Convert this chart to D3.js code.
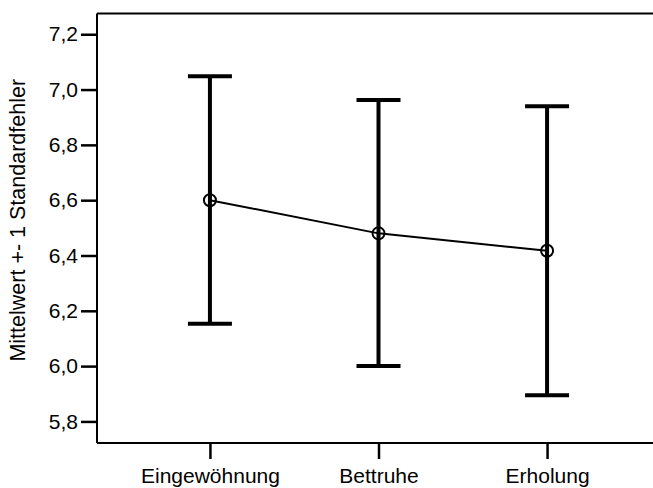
<!DOCTYPE html>
<html>
<head>
<meta charset="utf-8">
<script src="https://cdn.jsdelivr.net/npm/d3@7"></script>
<style>
  body { margin: 0; background: #fff; }
  svg { display: block; font-family: "Liberation Sans", Arial, sans-serif; }
</style>
</head>
<body>
<div id="chart"></div>
<script>
// data
var categories = ["Eingewöhnung", "Bettruhe", "Erholung"];
var means = [6.60, 6.48, 6.417];
var upper = [7.048, 6.962, 6.94];
var lower = [6.153, 6.0, 5.895];
var yTicks = [5.8, 6.0, 6.2, 6.4, 6.6, 6.8, 7.0, 7.2];

var width = 653, height = 488;
var margin = {top: 13.5, right: -7, bottom: 45, left: 97};
var w = width - margin.left - margin.right;
var h = height - margin.top - margin.bottom;
var fontSize = 21;

var svg = d3.select("#chart").append("svg")
    .attr("width", width)
    .attr("height", height);

var g = svg.append("g")
    .attr("transform", "translate(" + margin.left + "," + margin.top + ")");

var x = d3.scalePoint()
    .domain(categories)
    .range([0, w])
    .padding(0.67);

var y = d3.scaleLinear()
    .domain([5.722, 7.275])
    .range([h, 0]);

var fmt = function(d) { return d3.format(".1f")(d).replace(".", ","); };

// frame (top + bottom run off the right edge)
g.append("line")
    .attr("x1", 0).attr("x2", w)
    .attr("y1", 0).attr("y2", 0)
    .attr("stroke", "#000").attr("stroke-width", 2);

// y axis
var yAxis = g.append("g")
    .call(d3.axisLeft(y).tickValues(yTicks).tickFormat(fmt).tickSize(16).tickPadding(3));
yAxis.select(".domain").attr("stroke-width", 2).attr("d", "M0," + h + "V0");
yAxis.selectAll(".tick line").attr("stroke-width", 2.5);
yAxis.selectAll(".tick text").attr("font-size", fontSize).attr("fill", "#000").attr("font-family", "Liberation Sans, Arial, sans-serif");

// x axis
var xAxis = g.append("g")
    .attr("transform", "translate(0," + h + ")")
    .call(d3.axisBottom(x).tickSize(16).tickPadding(9));
xAxis.select(".domain").attr("stroke-width", 2).attr("d", "M0,0H" + w);
xAxis.selectAll(".tick line").attr("stroke-width", 2.5);
xAxis.selectAll(".tick text").attr("font-size", fontSize).attr("fill", "#000").attr("font-family", "Liberation Sans, Arial, sans-serif");

// axis title
svg.append("text")
    .attr("transform", "translate(25," + (margin.top + h / 2 - 8) + ") rotate(-90)")
    .attr("text-anchor", "middle")
    .attr("font-size", 21.5)
    .text("Mittelwert +- 1 Standardfehler");

// error bars
var capW = 22;
var bars = g.selectAll(".err")
    .data(categories)
  .enter().append("g")
    .attr("class", "err");

bars.append("line")
    .attr("x1", function(d) { return x(d); })
    .attr("x2", function(d) { return x(d); })
    .attr("y1", function(d, i) { return y(upper[i]); })
    .attr("y2", function(d, i) { return y(lower[i]); })
    .attr("stroke", "#000").attr("stroke-width", 4);

bars.append("line")
    .attr("x1", function(d) { return x(d) - capW; })
    .attr("x2", function(d) { return x(d) + capW; })
    .attr("y1", function(d, i) { return y(upper[i]); })
    .attr("y2", function(d, i) { return y(upper[i]); })
    .attr("stroke", "#000").attr("stroke-width", 4);

bars.append("line")
    .attr("x1", function(d) { return x(d) - capW; })
    .attr("x2", function(d) { return x(d) + capW; })
    .attr("y1", function(d, i) { return y(lower[i]); })
    .attr("y2", function(d, i) { return y(lower[i]); })
    .attr("stroke", "#000").attr("stroke-width", 4);

// mean line
var line = d3.line()
    .x(function(d, i) { return x(categories[i]); })
    .y(function(d) { return y(d); });

g.append("path")
    .datum(means)
    .attr("d", line)
    .attr("fill", "none")
    .attr("stroke", "#000")
    .attr("stroke-width", 2);

g.selectAll(".pt")
    .data(means)
  .enter().append("circle")
    .attr("class", "pt")
    .attr("cx", function(d, i) { return x(categories[i]); })
    .attr("cy", function(d) { return y(d); })
    .attr("r", 6)
    .attr("fill", "none")
    .attr("stroke", "#000")
    .attr("stroke-width", 2);
</script>
</body>
</html>
